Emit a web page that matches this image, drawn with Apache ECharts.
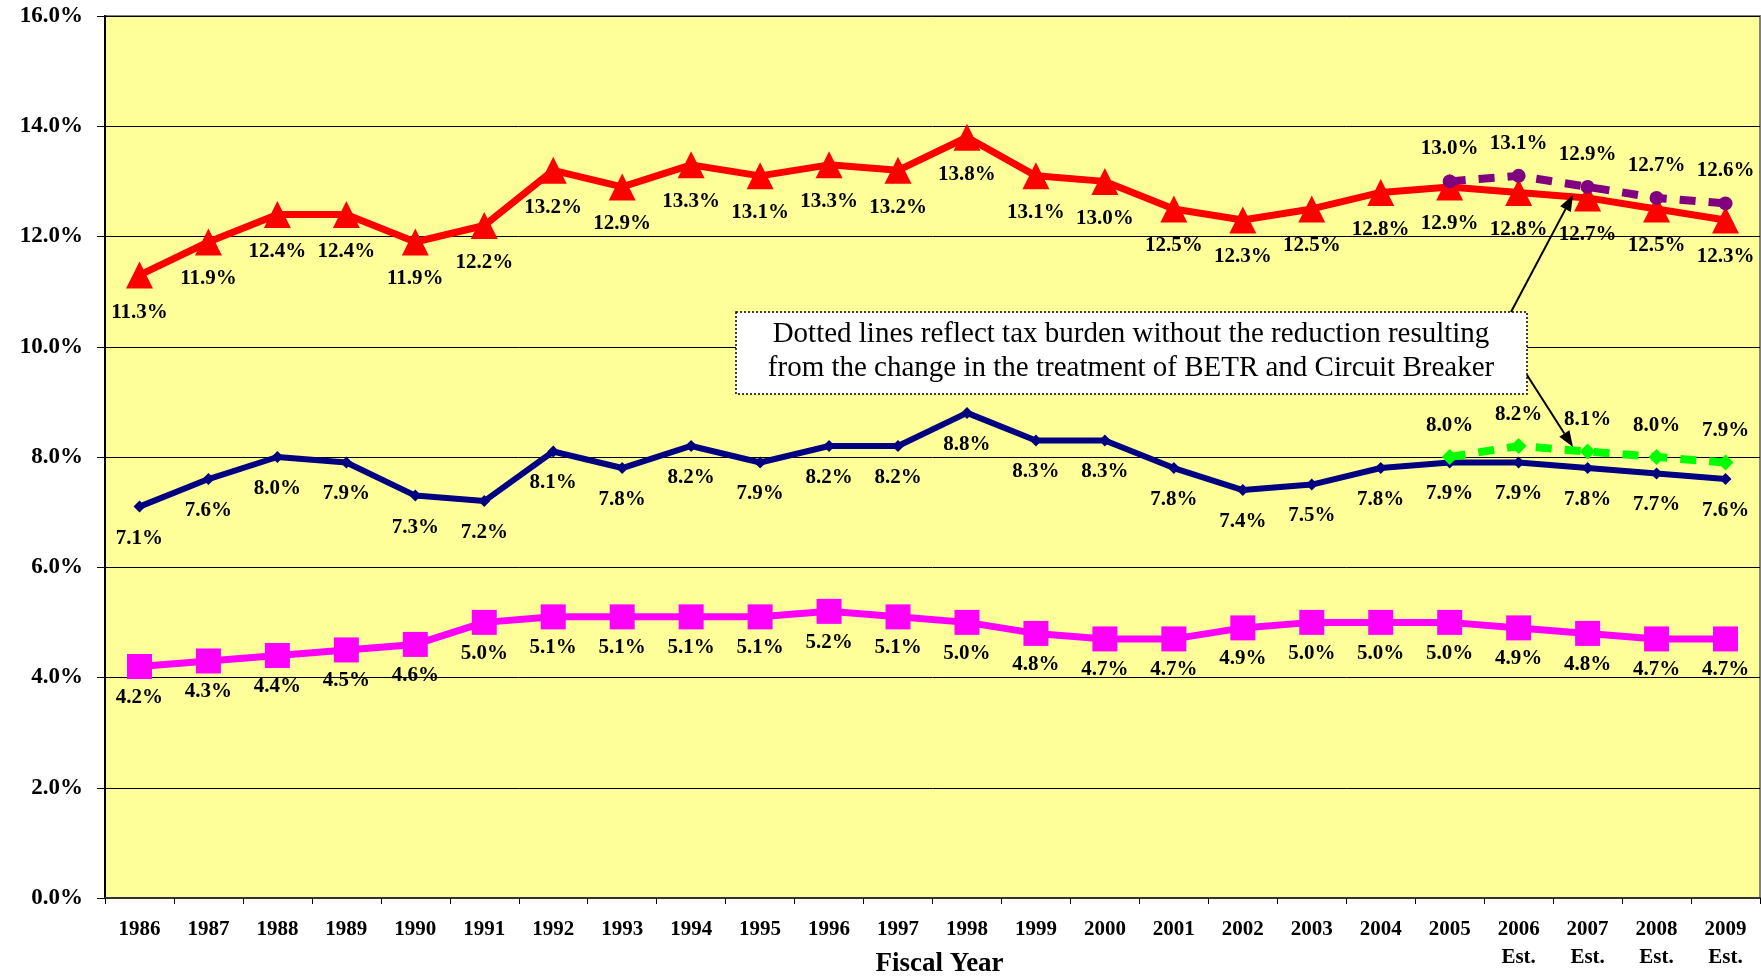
<!DOCTYPE html>
<html>
<head>
<meta charset="utf-8">
<script src="https://cdn.jsdelivr.net/npm/echarts@6/dist/echarts.min.js"></script>
<style>
html,body{margin:0;padding:0;background:#fff;}
#c{width:1761px;height:977px;}
</style>
</head>
<body>
<div id="c"></div>
<script>
const years = ['1986','1987','1988','1989','1990','1991','1992','1993','1994','1995','1996','1997','1998','1999','2000','2001','2002','2003','2004','2005','2006\nEst.','2007\nEst.','2008\nEst.','2009\nEst.'];
const totalBurden = [11.3,11.9,12.4,12.4,11.9,12.2,13.2,12.9,13.3,13.1,13.3,13.2,13.8,13.1,13.0,12.5,12.3,12.5,12.8,12.9,12.8,12.7,12.5,12.3];
const totalNoReduction = [null,null,null,null,null,null,null,null,null,null,null,null,null,null,null,null,null,null,null,13.0,13.1,12.9,12.7,12.6];
const middleBurden = [7.1,7.6,8.0,7.9,7.3,7.2,8.1,7.8,8.2,7.9,8.2,8.2,8.8,8.3,8.3,7.8,7.4,7.5,7.8,7.9,7.9,7.8,7.7,7.6];
const middleNoReduction = [null,null,null,null,null,null,null,null,null,null,null,null,null,null,null,null,null,null,null,8.0,8.2,8.1,8.0,7.9];
const lowerBurden = [4.2,4.3,4.4,4.5,4.6,5.0,5.1,5.1,5.1,5.1,5.2,5.1,5.0,4.8,4.7,4.7,4.9,5.0,5.0,5.0,4.9,4.8,4.7,4.7];
const noteLines = ['Dotted lines reflect tax burden without the reduction resulting','from the change in the treatment of BETR and Circuit Breaker'];

const FONT = '"Liberation Serif", "Times New Roman", serif';
const fmt = p => (p.value == null ? '' : Number(p.value).toFixed(1) + '%');
function lbl(pos, dist) {
  return {show: true, position: pos, distance: dist, formatter: fmt, color: '#000', fontFamily: FONT, fontWeight: 'bold', fontSize: 21};
}

const chart = echarts.init(document.getElementById('c'));

function arrow(x1, y1, x2, y2) {
  const ang = Math.atan2(y2 - y1, x2 - x1);
  const L = 16, W = 6;
  const bx = x2 - L * Math.cos(ang), by = y2 - L * Math.sin(ang);
  const px = -Math.sin(ang) * W, py = Math.cos(ang) * W;
  return [
    {type: 'line', shape: {x1: x1, y1: y1, x2: bx, y2: by}, style: {stroke: '#000', lineWidth: 2}, z: 100},
    {type: 'polygon', shape: {points: [[x2, y2], [bx + px, by + py], [bx - px, by - py]]}, style: {fill: '#000'}, z: 100}
  ];
}

const option = {
  animation: false,
  backgroundColor: '#fff',
  grid: {left: 105, top: 16, right: 1, bottom: 79, containLabel: false, outerBoundsMode: 'none',
         show: true, backgroundColor: '#FFFF99', borderColor: '#808080', borderWidth: 2},
  xAxis: {
    type: 'category', data: years, boundaryGap: true,
    name: 'Fiscal Year', nameLocation: 'middle', nameGap: 53, nameMoveOverlap: false,
    nameTextStyle: {fontFamily: FONT, fontWeight: 'bold', fontSize: 27, color: '#000', padding: [0, 0, 0, 14]},
    axisLine: {lineStyle: {color: '#333', width: 2}},
    axisTick: {show: true, length: 6, interval: 0, lineStyle: {color: '#000'}},
    axisLabel: {interval: 0, margin: 18, fontFamily: FONT, fontWeight: 'bold', fontSize: 21, color: '#000', lineHeight: 28}
  },
  yAxis: {
    type: 'value', min: 0, max: 16, interval: 2,
    axisLine: {show: true, lineStyle: {color: '#000', width: 2}},
    axisTick: {show: true, length: 8, lineStyle: {color: '#000'}},
    splitLine: {lineStyle: {color: '#000', width: 1}},
    axisLabel: {margin: 22, formatter: v => v.toFixed(1) + '%', fontFamily: FONT, fontWeight: 'bold', fontSize: 23, color: '#000'}
  },
  series: [
    {name: 'Total', type: 'line', data: totalBurden, symbol: 'triangle', symbolSize: 27,
     itemStyle: {color: '#FF0000'}, lineStyle: {color: '#FF0000', width: 7}, label: lbl('bottom', 13), z: 3},
    {name: 'Middle', type: 'line', data: middleBurden, symbol: 'diamond', symbolSize: 12,
     itemStyle: {color: '#000080'}, lineStyle: {color: '#000080', width: 6}, label: lbl('bottom', 15), z: 3},
    {name: 'Lower', type: 'line', data: lowerBurden, symbol: 'rect', symbolSize: 25,
     itemStyle: {color: '#FF00FF'}, lineStyle: {color: '#FF00FF', width: 7}, label: lbl('bottom', 8), z: 3},
    {name: 'Total w/o reduction', type: 'line', data: totalNoReduction, symbol: 'circle', symbolSize: 14,
     itemStyle: {color: '#800080'}, lineStyle: {color: '#800080', width: 8, type: [16, 13]}, label: lbl('top', 15), z: 4},
    {name: 'Middle w/o reduction', type: 'line', data: middleNoReduction, symbol: 'diamond', symbolSize: 16,
     itemStyle: {color: '#00FF00'}, lineStyle: {color: '#00FF00', width: 8, type: [16, 13]}, label: lbl('top', 13), z: 4}
  ],
  graphic: [
    {type: 'rect', shape: {x: 736, y: 312, width: 791, height: 82},
     style: {fill: '#fff', stroke: '#000', lineWidth: 1.5, lineDash: [2, 2]}, z: 100},
    {type: 'text', x: 1131, y: 334, style: {text: noteLines[0], font: '29px ' + FONT, fill: '#000', textAlign: 'center', textVerticalAlign: 'middle'}, z: 101},
    {type: 'text', x: 1131, y: 368, style: {text: noteLines[1], font: '29px ' + FONT, fill: '#000', textAlign: 'center', textVerticalAlign: 'middle'}, z: 101}
  ].concat(arrow(1511, 312, 1573, 195)).concat(arrow(1527, 375, 1573, 447))
};
chart.setOption(option);
</script>
</body>
</html>
